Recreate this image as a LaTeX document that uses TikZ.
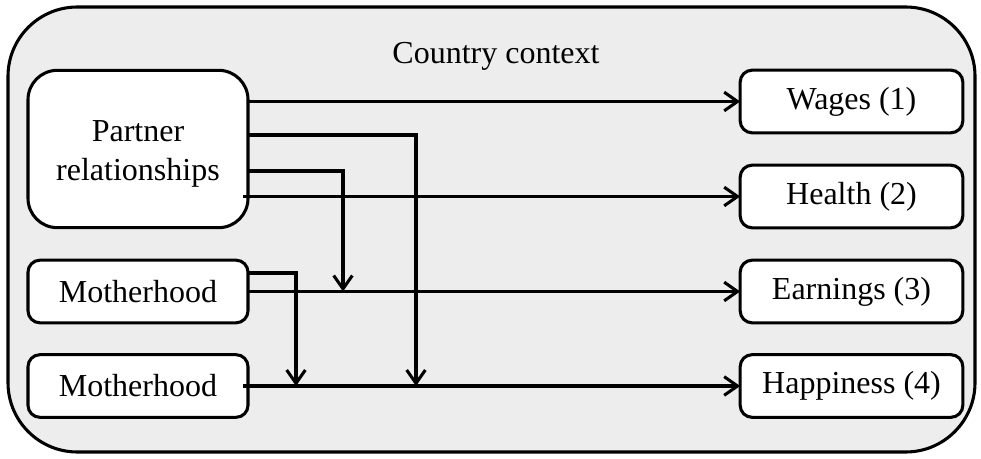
\documentclass[tikz,border=0pt]{standalone}
\usepackage{fontspec}
\setmainfont{Liberation Serif}
\usetikzlibrary{arrows.meta,calc}
\definecolor{bggray}{HTML}{EDEDED}
\begin{document}
\begin{tikzpicture}[x=0.75pt,y=-0.75pt,
  txt/.style={font=\fontsize{24}{29}\selectfont,align=center},
  box/.style={draw=black,line width=2.3pt,fill=white,rounded corners=9pt,
    minimum width=165pt,inner sep=0pt,outer sep=0pt,txt},
  outbox/.style={box,minimum width=167pt,minimum height=47pt},
  conn/.style={line width=2.3pt},
  arr/.style={conn,-{Straight Barb[length=10pt,width=14pt,line width=2.3pt]}}]
\useasboundingbox (0,0) rectangle (981,459);
\draw[line width=2.3pt,fill=bggray,rounded corners=52pt] (8,7) rectangle (975,452);
\node[txt] (ctx) at (496,56) {Country context};
\node[box,rounded corners=22pt,minimum height=118pt] (partner) at (138,149) {};
\node[txt] (partnertext) at (138,154) {Partner\\relationships};
\node[box,minimum height=47pt] (mother1) at (138,291.5) {Motherhood};
\node[box,minimum height=47pt] (mother2) at (138,386) {Motherhood};
\node[outbox] (wages) at (851.5,101.5) {Wages (1)};
\node[outbox] (health) at (851.5,196.5) {Health (2)};
\node[outbox] (earn) at (851.5,291.5) {Earnings (3)};
\node[outbox] (happy) at (851.5,386) {Happiness (4)};
\coordinate (j1) at (343,291.5);
\coordinate (j2) at (416,386);
\coordinate (j3) at (296,386);
\draw[arr] (partner.east |- wages) -- (wages.west);
\draw[arr] ($(partner.east |- health)+(-5,0)$) -- (health.west);
\draw[arr] (mother1.east |- earn) -- (earn.west);
\draw[arr] ($(mother2.east)+(-5,0)$) -- (happy.west);
\draw[arr] ($(partner.east)+(0,-14)$) -| (j2);
\draw[arr] ($(partner.east)+(0,22)$) -| (j1);
\draw[arr] ($(mother1.east)+(0,-18.5)$) -| (j3);
\end{tikzpicture}
\end{document}
